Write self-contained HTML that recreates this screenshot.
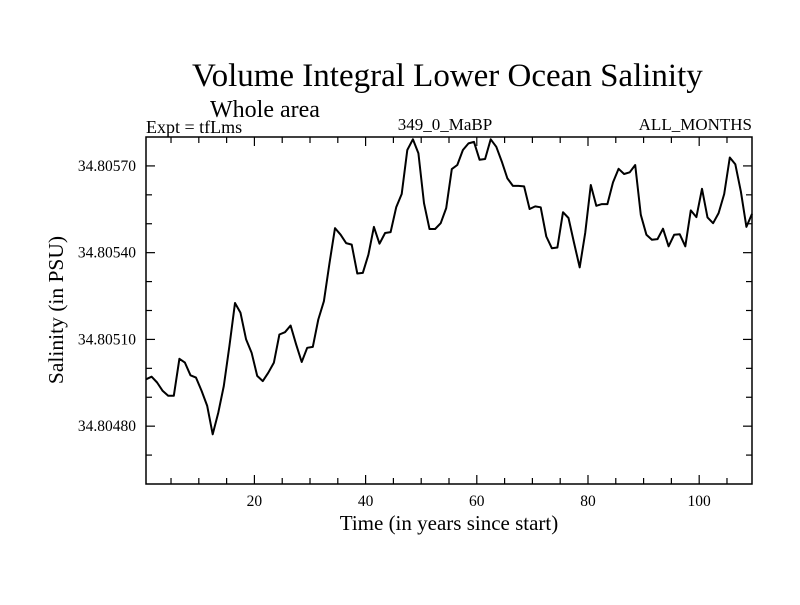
<!DOCTYPE html>
<html><head><meta charset="utf-8"><style>
html,body{margin:0;padding:0;background:#fff;}
svg text{font-family:"Liberation Serif",serif;fill:#000;}
</style></head><body>
<svg id="chart" width="800" height="600" viewBox="0 0 800 600" xmlns="http://www.w3.org/2000/svg">
<rect width="800" height="600" fill="#fff"/>
<text x="192" y="86" font-size="33">Volume Integral Lower Ocean Salinity</text>
<text x="210" y="117" font-size="24">Whole area</text>
<text x="146" y="133" font-size="18">Expt = tfLms</text>
<text x="445" y="130" font-size="17" text-anchor="middle">349_0_MaBP</text>
<text x="752" y="130" font-size="17" text-anchor="end">ALL_MONTHS</text>
<g id="axes"></g>
<text x="449" y="530" font-size="21" text-anchor="middle">Time (in years since start)</text>
<text transform="translate(63,310) rotate(-90)" font-size="21.5" text-anchor="middle">Salinity (in PSU)</text>
</svg>
<script>
const salinity = [34.804962,34.804971,34.804951,34.804922,34.804905,34.804905,34.805033,34.805020,34.804976,34.804968,
34.804922,34.804870,34.804772,34.804847,34.804939,34.805077,34.805226,34.805192,34.805100,34.805054,
34.804974,34.804956,34.804985,34.805020,34.805117,34.805125,34.805148,34.805083,34.805022,34.805071,
34.805074,34.805169,34.805232,34.805364,34.805485,34.805462,34.805433,34.805428,34.805328,34.805330,
34.805393,34.805489,34.805431,34.805468,34.805471,34.805557,34.805603,34.805755,34.805792,34.805744,
34.805571,34.805482,34.805482,34.805502,34.805554,34.805689,34.805703,34.805755,34.805778,34.805783,
34.805721,34.805724,34.805792,34.805766,34.805715,34.805657,34.805631,34.805631,34.805629,34.805551,
34.805560,34.805557,34.805456,34.805415,34.805418,34.805540,34.805520,34.805433,34.805349,34.805468,
34.805634,34.805562,34.805568,34.805568,34.805643,34.805690,34.805672,34.805678,34.805703,34.805531,
34.805462,34.805445,34.805447,34.805483,34.805422,34.805462,34.805464,34.805422,34.805546,34.805523,
34.805621,34.805522,34.805502,34.805537,34.805603,34.805729,34.805706,34.805611,34.805489,34.805534];
const xTickValues = [20,40,60,80,100];
const xTickLabels = ["20","40","60","80","100"];
const yTickValues = [34.8048,34.8051,34.8054,34.8057];
const yTickLabels = ["34.80480","34.80510","34.80540","34.80570"];
const xMin=0.5, xMax=109.5, yMin=34.8046, yMax=34.8058;
const L=146, R=752, T=137, B=484;
const NS="http://www.w3.org/2000/svg";
const xs=v=>L+(v-xMin)/(xMax-xMin)*(R-L);
const ys=v=>B-(v-yMin)/(yMax-yMin)*(B-T);
const g=document.getElementById('axes');
function mk(tag,attrs){const e=document.createElementNS(NS,tag);for(const k in attrs)e.setAttribute(k,attrs[k]);g.appendChild(e);return e;}
for(let v=5;v<=105;v+=5){
  const x=xs(v);
  const len = v%20===0?9:6;
  const t1=mk('line',{x1:x,y1:B,x2:x,y2:B-len,stroke:'#000','stroke-width':1.2});
  
  
  const t2=mk('line',{x1:x,y1:T,x2:x,y2:T+len,stroke:'#000','stroke-width':1.2});
  
  
}
for(let k=1;k<12;k++){
  const v=yMin+k*0.0001;
  const y=ys(v);
  const major = (k%3===2);
  const len = major?9:6;
  const t1=mk('line',{x1:L,y1:y,x2:L+len,y2:y,stroke:'#000','stroke-width':1.2});
  
  
  const t2=mk('line',{x1:R,y1:y,x2:R-len,y2:y,stroke:'#000','stroke-width':1.2});
  
  
}
xTickValues.forEach((v,i)=>{
  const t=mk('text',{x:xs(v),y:B+22,'font-size':15.5,'text-anchor':'middle'});
  t.textContent=xTickLabels[i];
  
  
});
yTickValues.forEach((v,i)=>{
  const t=mk('text',{x:L-10,y:ys(v)+5,'font-size':15.5,'text-anchor':'end'});
  t.textContent=yTickLabels[i];
  
  
});
const pts=salinity.map((v,i)=>xs(i+0.5).toFixed(1)+','+ys(v).toFixed(1)).join(' ');
const line=mk('polyline',{points:pts,fill:'none',stroke:'#000','stroke-width':2,'stroke-linejoin':'round'});


const frame=mk('rect',{x:L,y:T,width:R-L,height:B-T,fill:'none',stroke:'#000','stroke-width':1.5});


</script>
</body></html>
